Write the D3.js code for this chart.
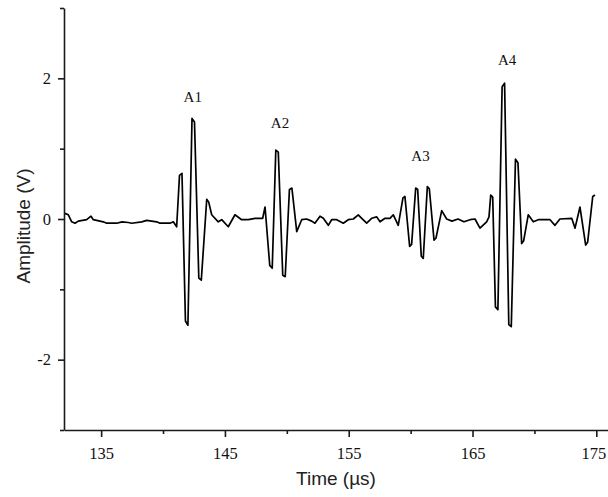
<!DOCTYPE html>
<html>
<head>
<meta charset="utf-8">
<script src="https://cdn.jsdelivr.net/npm/d3@7/dist/d3.min.js"></script>
<style>
  html, body { margin: 0; padding: 0; background: #fff; }
  svg { display: block; }
</style>
</head>
<body>
<svg id="chart" width="608" height="497"></svg>
<script>
// ---- Data ----
const timeUs = [
  132.08, 132.35, 132.62, 132.89, 133.16, 133.83, 134.18, 134.37, 135.17, 135.45,
  136.26, 136.68, 137.19, 137.47, 138.28, 138.68, 139.49, 139.75, 140.56, 140.83,
  141.10,
  141.33, 141.53, 141.81, 142.01, 142.34, 142.54, 142.89, 143.09, 143.53, 143.69,
  143.93, 144.46, 144.74, 145.27, 145.81, 146.35, 146.89, 147.43, 148.05, 148.24,
  148.62, 148.82, 149.11, 149.31, 149.67, 149.87, 150.21, 150.41,
  150.80, 151.20, 151.60, 152.01, 152.27, 152.68, 152.95, 153.35, 153.62, 154.03,
  154.56, 154.96, 155.37, 155.77, 156.05, 156.45, 156.85, 157.26, 157.53, 157.93,
  158.33, 158.60, 158.87, 159.00,
  159.38, 159.54, 159.92, 160.08, 160.41, 160.57, 160.86, 161.02, 161.35, 161.51, 161.89, 162.05,
  162.51, 162.91, 163.34, 163.83, 164.31, 164.80, 165.20, 165.60, 166.14, 166.33,
  166.47, 166.63, 166.85, 167.05, 167.39, 167.59, 167.93, 168.13, 168.47, 168.67, 168.97, 169.13,
  169.50, 169.91, 170.31, 171.26, 171.66, 172.06, 173.01, 173.28, 173.68,
  174.14, 174.30, 174.71, 174.89
];
const amplitudeV = [
  0.08, 0.06, -0.04, -0.06, -0.03, -0.01, 0.04, -0.01, -0.04, -0.06,
  -0.06, -0.04, -0.05, -0.06, -0.04, -0.02, -0.04, -0.06, -0.06, -0.04,
  -0.11,
  0.62, 0.65, -1.45, -1.51, 1.43, 1.38, -0.84, -0.87, 0.28, 0.24,
  0.06, -0.04, -0.01, -0.11, 0.06, -0.01, -0.01, 0.01, 0.01, 0.17,
  -0.66, -0.70, 0.98, 0.95, -0.80, -0.82, 0.42, 0.44,
  -0.18, -0.01, 0.00, -0.03, -0.06, 0.04, 0.01, -0.09, -0.01, -0.01,
  -0.06, -0.01, 0.00, 0.06, 0.01, -0.06, 0.01, 0.03, -0.04, 0.01,
  0.01, 0.06, -0.04, -0.09,
  0.30, 0.32, -0.39, -0.36, 0.44, 0.42, -0.53, -0.56, 0.46, 0.43, -0.30, -0.27,
  0.12, 0.00, -0.03, 0.00, -0.04, -0.01, 0.00, -0.13, -0.04, 0.03,
  0.34, 0.31, -1.25, -1.29, 1.88, 1.93, -1.50, -1.53, 0.85, 0.80, -0.35, -0.31,
  0.06, -0.04, -0.01, -0.01, -0.09, 0.00, 0.01, -0.13, 0.17,
  -0.37, -0.33, 0.32, 0.34
];
const xMajorTicks = [135, 145, 155, 165, 175];
const xMinorTicks = [140, 150, 160, 170];
const yMajorTicks = [-2, 0, 2];
const yMinorTicks = [-3, -1, 1, 3];
const annotations = ["A1", "A2", "A3", "A4"];
const annotationTime = [142.40, 149.45, 160.80, 167.80];
const annotationAmp = [1.66, 1.29, 0.82, 2.19];
const xTitle = "Time (\u00b5s)";
const yTitle = "Amplitude (V)";

// ---- Drawing ----
const svg = d3.select("#chart");
const x = d3.scaleLinear().domain([132, 176]).range([64, 608.7]);
const y = d3.scaleLinear().domain([-3, 3]).range([430, 8]);

const axisColor = "#1a1a1a";
const serif = "'Liberation Serif', 'DejaVu Serif', serif";
const sans = "'Liberation Sans', Arial, sans-serif";
const fmt = d => String(d);

// X axis
const gx = svg.append("g").attr("transform", `translate(0,${y(-3)})`);
gx.call(d3.axisBottom(x).tickValues(xMajorTicks).tickSize(7).tickSizeOuter(0).tickPadding(10).tickFormat(fmt));
const gxm = svg.append("g").attr("transform", `translate(0,${y(-3)})`);
gxm.call(d3.axisBottom(x).tickValues(xMinorTicks).tickSize(4).tickSizeOuter(0).tickFormat(""));
gxm.select(".domain").remove();
// keep the last label inside the picture
gx.selectAll(".tick text").filter(d => d === 175).attr("dx", -3);

// Y axis
const gy = svg.append("g").attr("transform", `translate(${x(132)},0)`);
gy.call(d3.axisLeft(y).tickValues(yMajorTicks).tickSize(6).tickSizeOuter(0).tickPadding(7).tickFormat(fmt));
const gym = svg.append("g").attr("transform", `translate(${x(132)},0)`);
gym.call(d3.axisLeft(y).tickValues(yMinorTicks).tickSize(4).tickSizeOuter(0).tickFormat(""));
gym.select(".domain").remove();

svg.selectAll(".domain").attr("stroke", axisColor).attr("stroke-width", 1.6);
svg.selectAll(".tick line").attr("stroke", axisColor).attr("stroke-width", 1.6);
svg.selectAll(".tick text")
  .attr("font-family", serif)
  .attr("font-size", 16.5)
  .attr("fill", "#111");

// Signal line
const pts = timeUs.map((t, i) => [t, amplitudeV[i]]);
const line = d3.line().x(d => x(d[0])).y(d => y(d[1]));
svg.append("path")
  .datum(pts)
  .attr("d", line)
  .attr("fill", "none")
  .attr("stroke", "#000")
  .attr("stroke-width", 1.7)
  .attr("stroke-linejoin", "round");

// Annotations
svg.selectAll("text.ann")
  .data(annotations)
  .enter().append("text")
  .attr("class", "ann")
  .attr("x", (d, i) => x(annotationTime[i]))
  .attr("y", (d, i) => y(annotationAmp[i]))
  .attr("text-anchor", "middle")
  .attr("font-family", serif)
  .attr("font-size", 15)
  .attr("fill", "#111")
  .text(d => d);

// Axis titles
svg.append("text")
  .attr("x", 336)
  .attr("y", 485)
  .attr("text-anchor", "middle")
  .attr("font-family", sans)
  .attr("font-size", 19)
  .attr("fill", "#222")
  .text(xTitle);

svg.append("text")
  .attr("transform", "translate(30,226) rotate(-90)")
  .attr("text-anchor", "middle")
  .attr("font-family", sans)
  .attr("font-size", 19)
  .attr("fill", "#222")
  .text(yTitle);
</script>
</body>
</html>
